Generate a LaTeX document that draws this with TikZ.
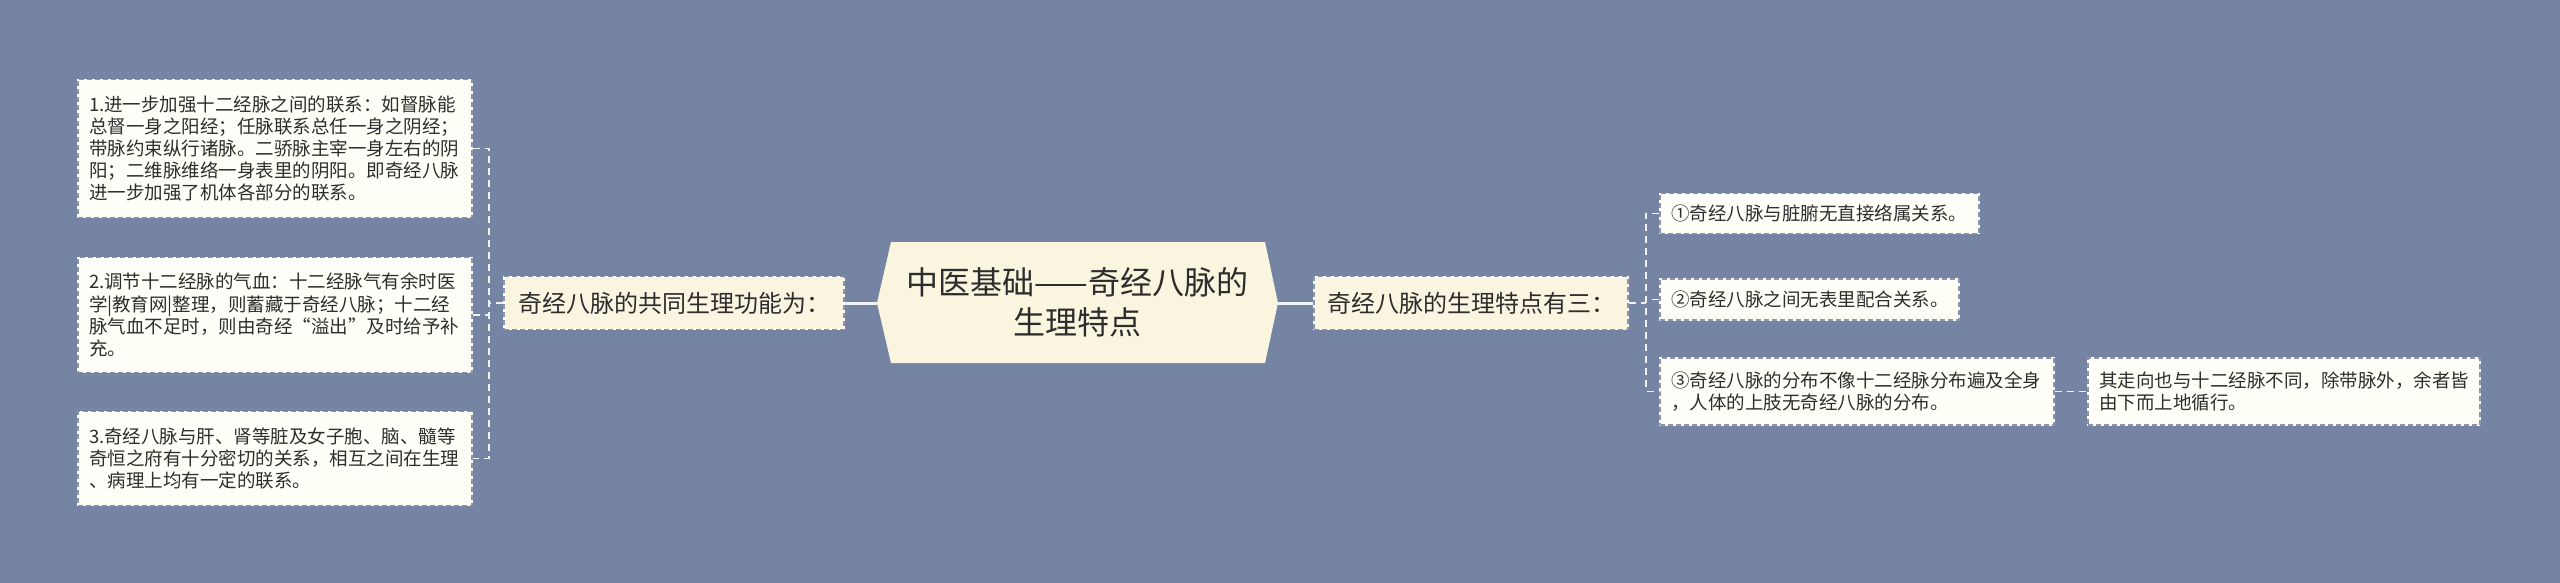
\documentclass[tikz,border=0pt]{standalone}
\usepackage{fontspec}
\setmainfont{Noto Sans CJK SC}
\definecolor{bg}{RGB}{118,132,163}
\definecolor{leaffill}{RGB}{255,254,247}
\definecolor{branchfill}{RGB}{250,245,225}
\definecolor{centerfill}{RGB}{250,245,223}
\definecolor{bordergray}{RGB}{140,148,172}
\definecolor{linecol}{RGB}{240,242,246}
\definecolor{txt}{RGB}{45,45,45}
\tikzset{
  box/.style={rectangle, draw=white, line width=1.4pt, text=txt,
    postaction={draw=bordergray, line width=1.4pt, dash pattern=on 5pt off 3pt},
    inner xsep=0pt, inner ysep=0pt, align=left},
  leaf/.style={box, fill=leaffill, font=\fontsize{18.5}{22.2}\selectfont},
  branch/.style={box, fill=branchfill, font=\fontsize{24}{28}\selectfont, align=center},
  conn/.style={draw=linecol, line width=1.8pt, dash pattern=on 7pt off 5pt},
  solidconn/.style={draw=linecol, line width=3pt},
}
\begin{document}
\begin{tikzpicture}[x=1pt,y=-1pt]
\useasboundingbox (0,0) rectangle (2560,583);
\fill[bg] (0,0) rectangle (2560,583);

% center hexagon
\fill[centerfill] (877,303) -- (891,242) -- (1265,242) -- (1278,303) -- (1265,363) -- (891,363) -- cycle;
\node[text=txt, font=\fontsize{32}{40}\selectfont, align=center] (c) at (1077.5,302) {中医基础——奇经八脉的\\生理特点};
\coordinate (cl) at (877,303);
\coordinate (cr) at (1278,303);

% left branch
\node[branch, minimum width=340, minimum height=53] (lb) at (674,303) {奇经八脉的共同生理功能为：};
% right branch
\node[branch, minimum width=314, minimum height=53] (rb) at (1471,303) {奇经八脉的生理特点有三：};

% left leaves
\node[leaf, minimum width=394, minimum height=138, text width=372] (l1) at (275,148.5) {1.进一步加强十二经脉之间的联系：如督脉能\\总督一身之阳经；任脉联系总任一身之阴经；\\带脉约束纵行诸脉。二骄脉主宰一身左右的阴\\阳；二维脉维络一身表里的阴阳。即奇经八脉\\进一步加强了机体各部分的联系。};
\node[leaf, minimum width=394, minimum height=115, text width=372] (l2) at (275,315) {2.调节十二经脉的气血：十二经脉气有余时医\\学|教育网|整理，则蓄藏于奇经八脉；十二经\\脉气血不足时，则由奇经“溢出”及时给予补\\充。};
\node[leaf, minimum width=394, minimum height=94, text width=372] (l3) at (275,458.5) {3.奇经八脉与肝、肾等脏及女子胞、脑、髓等\\奇恒之府有十分密切的关系，相互之间在生理\\、病理上均有一定的联系。};

% right leaves
\node[leaf, minimum width=319, minimum height=40, text width=297] (r1) at (1819.5,213.5) {①奇经八脉与脏腑无直接络属关系。};
\node[leaf, minimum width=299, minimum height=41, text width=277] (r2) at (1809.5,299.5) {②奇经八脉之间无表里配合关系。};
\node[leaf, minimum width=394, minimum height=67, text width=372] (r3) at (1857,391.5) {③奇经八脉的分布不像十二经脉分布遍及全身\\，人体的上肢无奇经八脉的分布。};
\node[leaf, minimum width=392, minimum height=67, text width=370] (r4) at (2284,391.5) {其走向也与十二经脉不同，除带脉外，余者皆\\由下而上地循行。};

% solid connectors center-branches
\draw[solidconn] (cl) -- (lb.east);
\draw[solidconn] (cr) -- (rb.west);

% left tree
\coordinate (lv) at (489,303);
\draw[conn] (lb.west) -- (lv);
\draw[conn] (l1.east) -- (l1.east -| lv) -- (l3.east -| lv) -- (l3.east);
\draw[conn] (l2.east) -- (l2.east -| lv);

% right tree
\coordinate (rv) at (1646,303);
\draw[conn] (rb.east) -- (rv);
\draw[conn] (r1.west) -- (r1.west -| rv) -- (r3.west -| rv) -- (r3.west);
\draw[conn] (r2.west) -- (r2.west -| rv);
\draw[conn] (r3.east) -- (r4.west);
\end{tikzpicture}
\end{document}
